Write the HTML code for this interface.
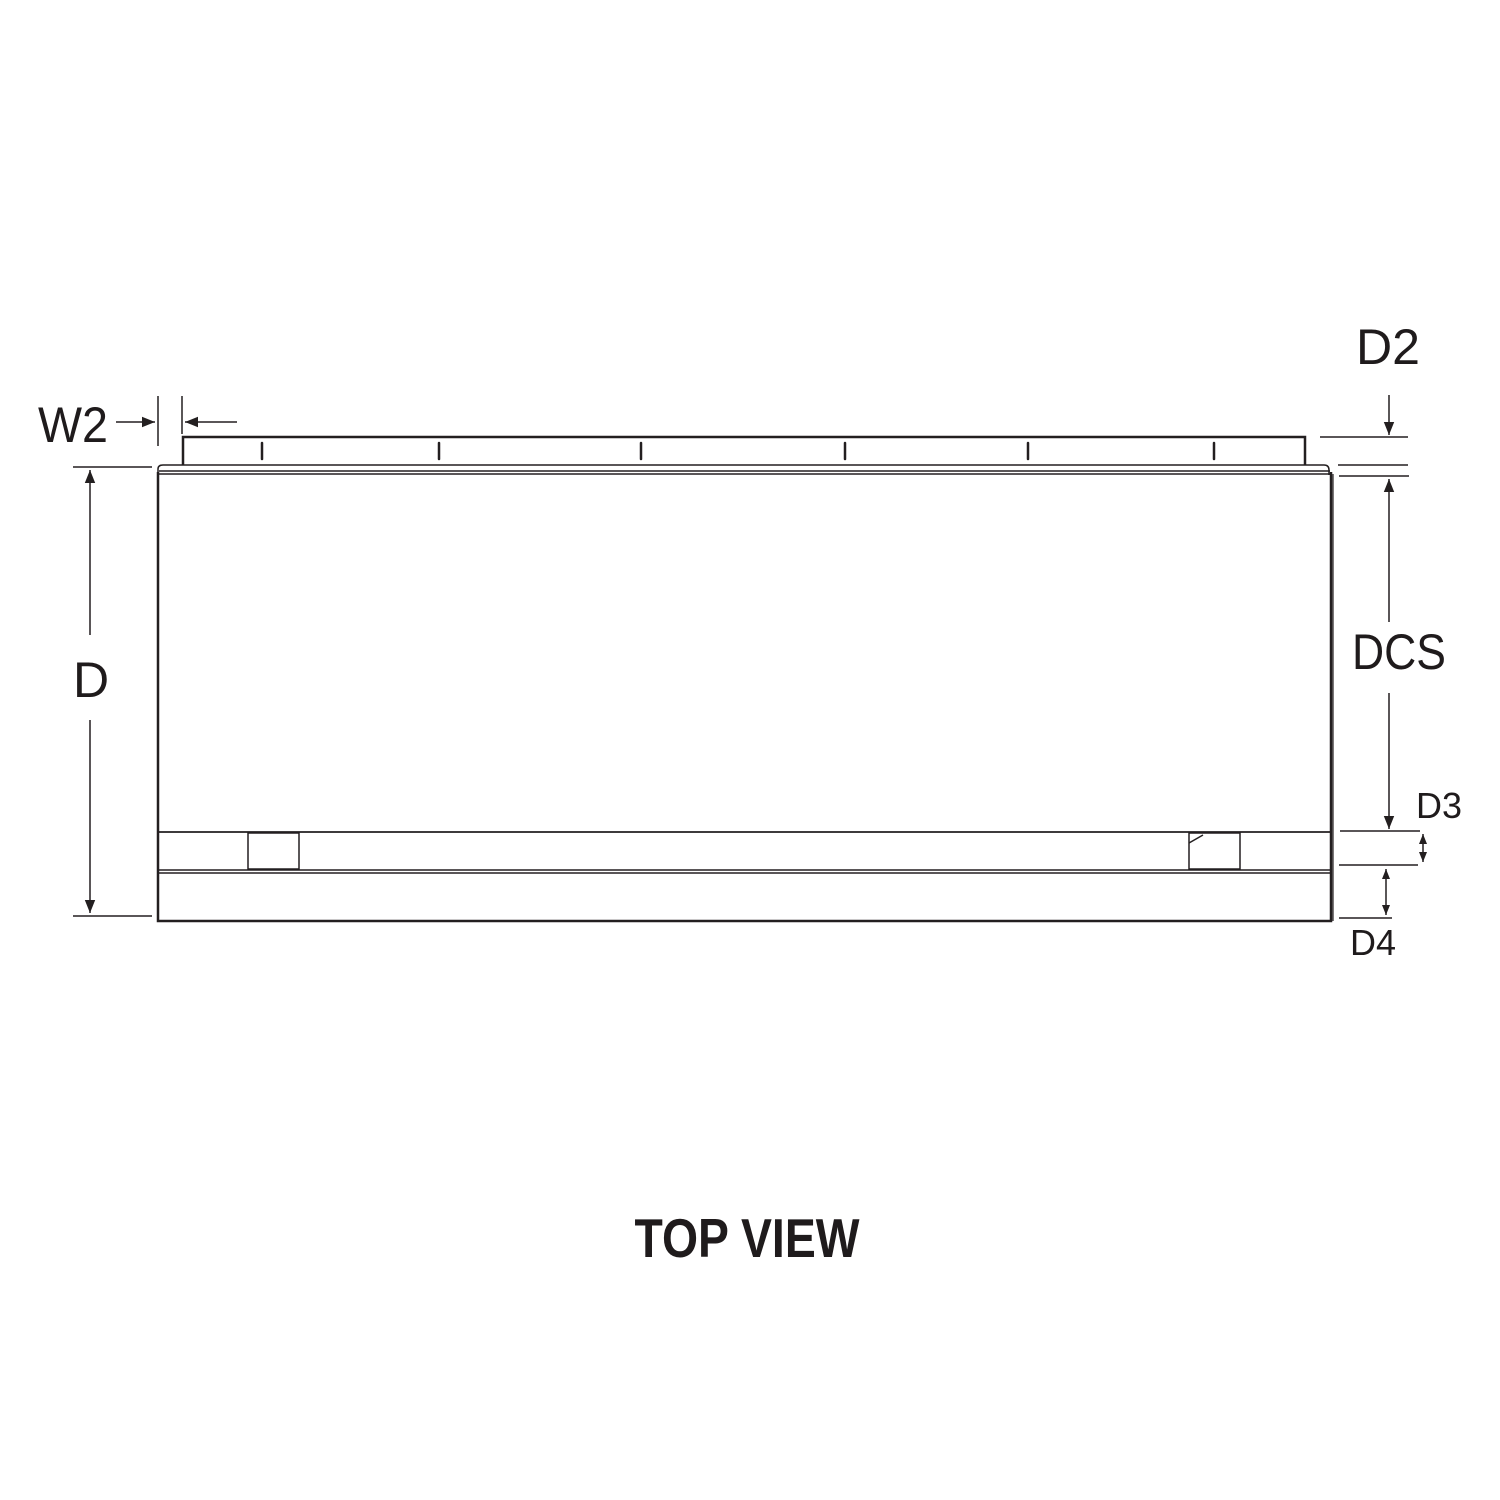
<!DOCTYPE html>
<html><head><meta charset="utf-8"><style>
html,body{margin:0;padding:0;background:#fff;}
svg{display:block;}
text{font-family:"Liberation Sans",sans-serif;fill:#1f1b1c;}
</style></head><body>
<svg width="1500" height="1500" viewBox="0 0 1500 1500" xmlns="http://www.w3.org/2000/svg">
<defs>
<marker id="a" viewBox="0 0 10 10" refX="10" refY="5" markerWidth="11" markerHeight="10" markerUnits="userSpaceOnUse" orient="auto-start-reverse">
<path d="M0,1 L10,5 L0,9 z" fill="#231f20"/></marker>
<marker id="b" viewBox="0 0 10 10" refX="10" refY="5" markerWidth="16" markerHeight="13" markerUnits="userSpaceOnUse" orient="auto-start-reverse">
<path d="M0,1 L10,5 L0,9 z" fill="#231f20"/></marker>
</defs>
<g stroke="#231f20" fill="none">
<path d="M183,465 V437 H1305 V465" stroke-width="2.5"/>
<g stroke-width="2.5" stroke-linecap="round">
<line x1="262" y1="443" x2="262" y2="459"/><line x1="439" y1="443" x2="439" y2="459"/>
<line x1="641" y1="443" x2="641" y2="459"/><line x1="845" y1="443" x2="845" y2="459"/>
<line x1="1028" y1="443" x2="1028" y2="459"/><line x1="1214" y1="443" x2="1214" y2="459"/>
</g>
<path d="M158,475 V469 Q158,465 163,465 H1324 Q1329,465 1329,470 V475" stroke-width="1.5"/>
<line x1="159" y1="471" x2="1330" y2="471" stroke-width="1.5"/>
<line x1="159" y1="474" x2="1330" y2="474" stroke-width="1.5"/>
<path d="M158,472 V921 H1331 V472" stroke-width="2.5"/>
<line x1="1333" y1="474" x2="1333" y2="921" stroke-width="1.2"/>
<line x1="159" y1="832" x2="1330" y2="832" stroke-width="1.8"/>
<line x1="159" y1="870" x2="1330" y2="870" stroke-width="1.5"/>
<line x1="159" y1="873" x2="1330" y2="873" stroke-width="1.5"/>
<rect x="248" y="833" width="51" height="36" stroke-width="1.5"/>
<rect x="1189" y="833" width="51" height="36" stroke-width="1.5"/>
<line x1="1189" y1="843" x2="1203" y2="835" stroke-width="1.5"/>
<g stroke-width="1.5">
<line x1="158" y1="396" x2="158" y2="446"/>
<line x1="182" y1="396" x2="182" y2="434"/>
<line x1="116" y1="422" x2="155" y2="422" marker-end="url(#b)"/>
<line x1="237" y1="422" x2="185" y2="422" marker-end="url(#b)"/>
<line x1="73" y1="467" x2="152" y2="467"/>
<line x1="73" y1="916" x2="152" y2="916"/>
<line x1="90" y1="635" x2="90" y2="470" marker-end="url(#b)"/>
<line x1="90" y1="720" x2="90" y2="913" marker-end="url(#b)"/>
<line x1="1320" y1="437" x2="1408" y2="437"/>
<line x1="1338" y1="465" x2="1408" y2="465"/>
<line x1="1339" y1="476" x2="1409" y2="476"/>
<line x1="1389" y1="395" x2="1389" y2="435" marker-end="url(#b)"/>
<line x1="1389" y1="622" x2="1389" y2="479" marker-end="url(#b)"/>
<line x1="1389" y1="693" x2="1389" y2="829" marker-end="url(#b)"/>
<line x1="1340" y1="831" x2="1420" y2="831"/>
<line x1="1339" y1="865" x2="1418" y2="865"/>
<line x1="1423" y1="834" x2="1423" y2="862" marker-start="url(#a)" marker-end="url(#a)"/>
<line x1="1339" y1="918" x2="1392" y2="918"/>
<line x1="1386" y1="869" x2="1386" y2="915" marker-start="url(#a)" marker-end="url(#a)"/>
</g>
</g>
<text x="73" y="442" font-size="50" text-anchor="middle" textLength="70" lengthAdjust="spacingAndGlyphs">W2</text>
<text x="1388" y="364" font-size="50" text-anchor="middle" textLength="64" lengthAdjust="spacingAndGlyphs">D2</text>
<text x="91" y="697" font-size="50" text-anchor="middle">D</text>
<text x="1399" y="669" font-size="50" text-anchor="middle" textLength="94" lengthAdjust="spacingAndGlyphs">DCS</text>
<text x="1439" y="818" font-size="36" text-anchor="middle" textLength="46" lengthAdjust="spacingAndGlyphs">D3</text>
<text x="1373" y="955" font-size="36" text-anchor="middle" textLength="46" lengthAdjust="spacingAndGlyphs">D4</text>
<text x="747" y="1257" font-size="55" font-weight="bold" text-anchor="middle" textLength="225" lengthAdjust="spacingAndGlyphs">TOP VIEW</text>
</svg>
</body></html>
